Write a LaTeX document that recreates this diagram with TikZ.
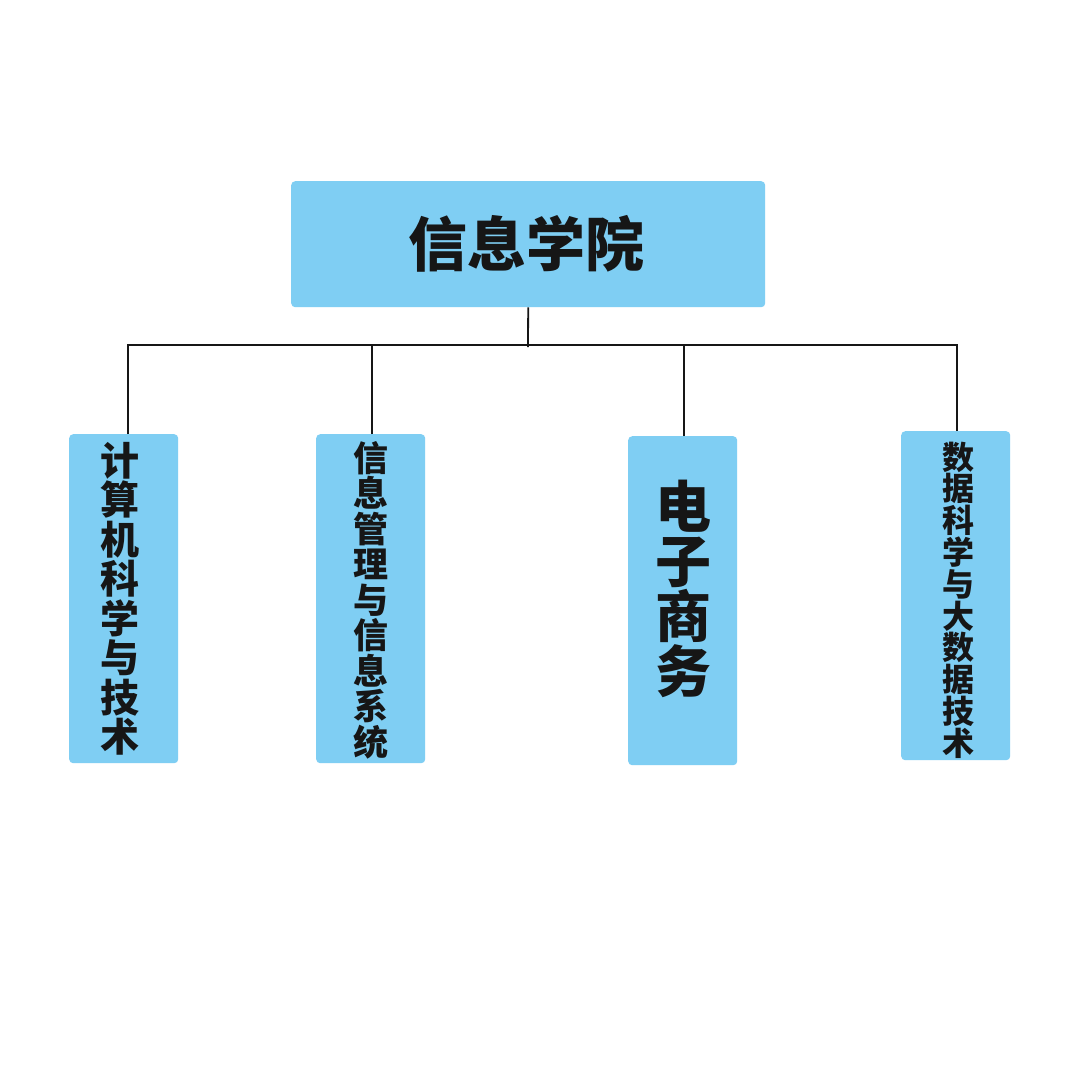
\documentclass[tikz,border=0pt]{standalone}
\usepackage{fontspec}
\newfontfamily\cjk{Noto Sans CJK SC}
\definecolor{boxblue}{HTML}{7FCEF3}
\definecolor{ink}{HTML}{161616}
\begin{document}
\begin{tikzpicture}[x=1pt,y=-1pt,
  boxbase/.style={fill=boxblue,rounded corners=4pt,inner sep=0pt,anchor=north west},
  topbox/.style={boxbase,minimum width=474pt,minimum height=126pt},
  kidbox/.style={boxbase,minimum width=109pt,minimum height=329pt},
  label/.style={text=ink,align=center,inner sep=0pt},
  wire/.style={draw=ink,line width=1.8pt}]
\useasboundingbox (0,0) rectangle (1080,1080);
\fill[white] (0,0) rectangle (1080,1080);
\node[topbox] (top) at (291,181) {};
\node[kidbox] (c1) at (69,434) {};
\node[kidbox] (c2) at (316,434) {};
\node[kidbox] (c3) at (628,436) {};
\node[kidbox] (c4) at (901,431) {};
\node[label,font=\cjk\bfseries\fontsize{59}{59}\selectfont] (t0) at (526,244) {信息学院};
\node[label,font=\cjk\bfseries\fontsize{39}{39.5}\selectfont] (t1) at (120,599)
  {计\\算\\机\\科\\学\\与\\技\\术};
\node[label,font=\cjk\bfseries\fontsize{35}{35.5}\selectfont] (t2) at (371,600)
  {信\\息\\管\\理\\与\\信\\息\\系\\统};
\node[label,font=\cjk\bfseries\fontsize{56}{55}\selectfont] (t3) at (683,589)
  {电\\子\\商\\务};
\node[label,font=\cjk\bfseries\fontsize{32}{31.8}\selectfont] (t4) at (958,600)
  {数\\据\\科\\学\\与\\大\\数\\据\\技\\术};
\coordinate (bus) at (528,345);
\coordinate (d1) at (128,434);
\coordinate (d2) at (372,434);
\coordinate (d3) at (684,436);
\coordinate (d4) at (957,431);
\draw[wire] (top.south) -- ([yshift=-2pt]bus);
\draw[wire] (d1) |- (bus) -| (d4);
\draw[wire] (d2) -- (d2 |- bus);
\draw[wire] (d3) -- (d3 |- bus);
\end{tikzpicture}
\end{document}
